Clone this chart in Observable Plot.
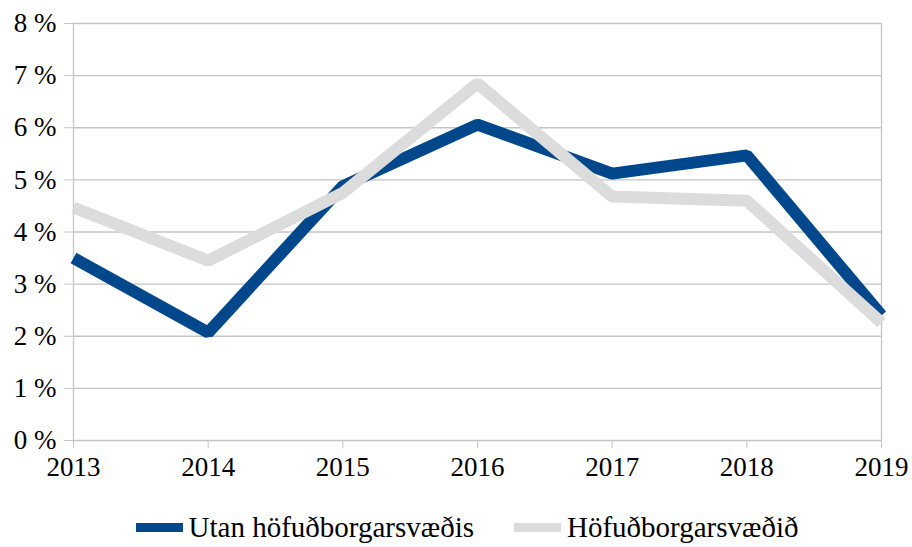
<!DOCTYPE html>
<html>
<head>
<meta charset="utf-8">
<script src="https://cdn.jsdelivr.net/npm/d3@7"></script>
<script src="https://cdn.jsdelivr.net/npm/@observablehq/plot@0.6"></script>
<style>
  html, body { margin: 0; padding: 0; background: #fff; }
  #chart { width: 912px; }
  .legend { display: flex; justify-content: center; align-items: center; font-family: "Liberation Serif", "DejaVu Serif", serif; font-size: 29px; color: #000; margin-top: 11px; padding-left: 22px; }
  .legend .item { display: flex; align-items: center; margin: 0 20px; }
  .legend .sw { width: 47px; height: 9px; margin-right: 6px; }
</style>
</head>
<body>
<div id="chart"></div>
<script>
const years = [2013, 2014, 2015, 2016, 2017, 2018, 2019];
const seriesNames = ["Utan höfuðborgarsvæðis", "Höfuðborgarsvæðið"];
const utan = [3.5, 2.07, 4.88, 6.06, 5.12, 5.47, 2.4];
const hofud = [4.47, 3.45, 4.75, 6.85, 4.68, 4.6, 2.26];
const colors = ["#00478b", "#dcdcdc"];
const yTicks = [0, 1, 2, 3, 4, 5, 6, 7, 8];

const dataUtan = years.map((y, i) => ({year: y, value: utan[i], series: seriesNames[0]}));
const dataHofud = years.map((y, i) => ({year: y, value: hofud[i], series: seriesNames[1]}));

const font = '"Liberation Serif", "DejaVu Serif", serif';

const plot = Plot.plot({
  width: 912,
  height: 500,
  marginLeft: 73,
  marginRight: 31,
  marginTop: 23,
  marginBottom: 60,
  style: {fontFamily: font, fontSize: "27px", color: "#000", background: "#fff", overflow: "visible"},
  x: {domain: [2013, 2019]},
  y: {domain: [0, 8]},
  marks: [
    Plot.ruleY(yTicks, {stroke: "#c4c4c4", strokeWidth: 1.3}),
    Plot.ruleX([2013, 2019], {stroke: "#c4c4c4", strokeWidth: 1.3}),
    Plot.axisY({ticks: yTicks, tickSize: 9, tickPadding: 8, stroke: "#c4c4c4", tickFormat: d => d + " %", label: null, fontSize: 27, fill: "#000", fontFamily: font}),
    Plot.axisX({ticks: years, tickSize: 8, tickPadding: 8, stroke: "#c4c4c4", tickFormat: d => String(d), label: null, fontSize: 27, fill: "#000", fontFamily: font}),
    Plot.line(dataUtan, {x: "year", y: "value", stroke: colors[0], strokeWidth: 12, strokeLinejoin: "miter", strokeLinecap: "butt"}),
    Plot.line(dataHofud, {x: "year", y: "value", stroke: colors[1], strokeWidth: 12, strokeLinejoin: "miter", strokeLinecap: "butt"})
  ]
});
document.getElementById("chart").appendChild(plot);

const legend = document.createElement("div");
legend.className = "legend";
seriesNames.forEach((name, i) => {
  const item = document.createElement("div");
  item.className = "item";
  const sw = document.createElement("span");
  sw.className = "sw";
  sw.style.background = colors[i];
  const label = document.createElement("span");
  label.textContent = name;
  item.appendChild(sw);
  item.appendChild(label);
  legend.appendChild(item);
});
document.getElementById("chart").appendChild(legend);
</script>
</body>
</html>
